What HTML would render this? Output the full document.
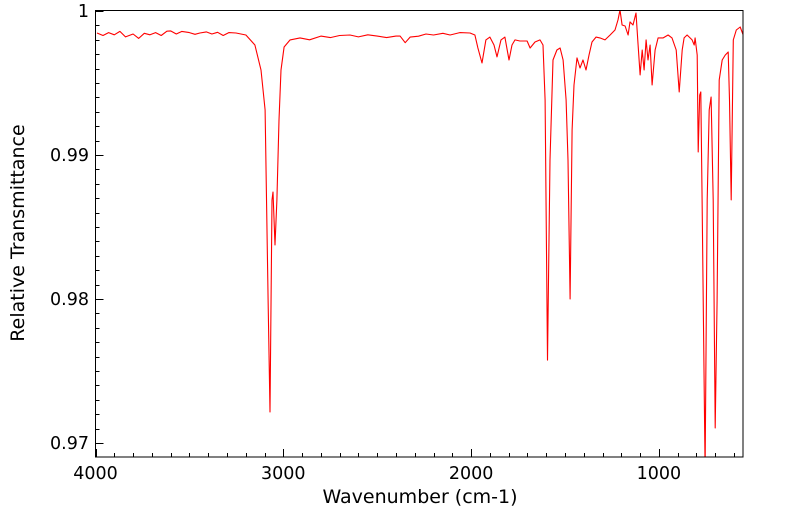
<!DOCTYPE html>
<html><head><meta charset="utf-8"><style>
html,body{margin:0;padding:0;background:#fff;width:799px;height:516px;overflow:hidden}
svg{display:block;font-family:"DejaVu Sans","Liberation Sans",sans-serif}
</style></head><body>
<svg id="chart" width="799" height="516">
<defs><clipPath id="clip"><rect x="95.5" y="10" width="647.5" height="447"/></clipPath></defs>
<g id="ticks"></g>
<g id="series" clip-path="url(#clip)"></g>
<rect x="95.5" y="10.5" width="647.5" height="446.5" fill="none" stroke="#000" stroke-width="1"/>
<g id="labels" font-size="17.5" fill="#000"></g>
<text x="420" y="503" text-anchor="middle" font-size="19">Wavenumber (cm-1)</text>
<text transform="translate(24,233) rotate(-90)" text-anchor="middle" font-size="19">Relative Transmittance</text>
</svg>
<script>
const wavenumbers=[3992,3960,3930,3900,3870,3840,3800,3770,3740,3710,3680,3650,3620,3600,3570,3540,3500,3470,3444,3410,3380,3350,3320,3290,3252,3199,3151,3119,3097,3081,3071,3060,3055,3044,3034,3023,3012,2996,2964,2911,2860,2800,2750,2700,2645,2600,2550,2500,2450,2400,2378,2351,2325,2280,2240,2200,2150,2112,2060,2006,1980,1964,1942,1921,1900,1878,1862,1841,1820,1798,1782,1766,1740,1702,1686,1660,1633,1617,1606,1593,1580,1564,1543,1526,1510,1494,1484,1473,1462,1452,1436,1420,1404,1388,1372,1356,1335,1314,1287,1260,1234,1218,1207,1196,1180,1164,1154,1138,1122,1111,1100,1089,1079,1068,1058,1047,1036,1020,1004,977,951,930,908,892,876,866,850,823,812,807,796,791,783,777,770,754,743,732,722,711,700,690,679,663,647,631,624,615,604,588,567,551];
const transmittance=[0.99847,0.99830,0.99850,0.99835,0.99858,0.99820,0.99840,0.99810,0.99845,0.99835,0.99850,0.99830,0.99860,0.99862,0.99840,0.99858,0.99850,0.99838,0.99847,0.99855,0.99840,0.99852,0.99830,0.99850,0.99847,0.99833,0.99764,0.99590,0.99313,0.97993,0.97215,0.98688,0.98743,0.98375,0.98688,0.99243,0.99590,0.99750,0.99799,0.99813,0.99800,0.99826,0.99815,0.99830,0.99833,0.99820,0.99835,0.99826,0.99815,0.99826,0.99826,0.99780,0.99819,0.99825,0.99840,0.99833,0.99845,0.99833,0.99850,0.99847,0.99833,0.99743,0.99639,0.99799,0.99819,0.99764,0.99681,0.99799,0.99819,0.99660,0.99764,0.99799,0.99792,0.99792,0.99743,0.99785,0.99799,0.99764,0.99382,0.97576,0.98965,0.99660,0.99729,0.99743,0.99660,0.99382,0.98965,0.98000,0.99174,0.99486,0.99674,0.99604,0.99660,0.99590,0.99694,0.99785,0.99819,0.99813,0.99799,0.99833,0.99868,0.99938,1.00007,0.99903,0.99896,0.99833,0.99924,0.99903,0.99986,0.99764,0.99556,0.99729,0.99590,0.99799,0.99660,0.99764,0.99486,0.99729,0.99813,0.99813,0.99833,0.99813,0.99729,0.99438,0.99729,0.99813,0.99833,0.99799,0.99764,0.99813,0.99694,0.99021,0.99417,0.99438,0.98688,0.96813,0.98688,0.99313,0.99403,0.98688,0.97104,0.97993,0.99521,0.99660,0.99694,0.99715,0.99382,0.98688,0.99799,0.99868,0.99889,0.99833];
const xTickLabels=[4000,3000,2000,1000];
const yTickLabels=[0.97,0.98,0.99,1];
const NS="http://www.w3.org/2000/svg";
const xPx=w=>95.5+(4000-w)*0.18780;
const yPx=t=>11+(1-t)*14400;
const series=document.getElementById('series');
const line=document.createElementNS(NS,'polyline');
line.setAttribute('points',wavenumbers.map((w,i)=>xPx(w).toFixed(1)+','+yPx(transmittance[i]).toFixed(1)).join(' '));
line.setAttribute('fill','none');line.setAttribute('stroke','#ff0000');line.setAttribute('stroke-width','1.1');line.setAttribute('stroke-linejoin','round');


series.appendChild(line);
const ticks=document.getElementById('ticks');
let d='';
for(let w=4000;w>=560;w-=100){const x=(Math.round(xPx(w))+0.5).toFixed(1);const len=(w%1000===0)?8:4;d+=`M${x},457V${457-len}`;}
for(let k=0;k<=31;k++){const t=0.969+k*0.001;const y=yPx(t);if(y<10||y>457)continue;const major=Math.round(t*1000)%10===0;const yy=Math.round(y)+0.5;d+=`M95.5,${yy}H${95.5+(major?8:4)}`;}
const tp=document.createElementNS(NS,'path');tp.setAttribute('d',d);tp.setAttribute('stroke','#000');tp.setAttribute('stroke-width','1');


ticks.appendChild(tp);
const labels=document.getElementById('labels');
xTickLabels.forEach(v=>{const t=document.createElementNS(NS,'text');t.setAttribute('x',xPx(v));t.setAttribute('y',479);t.setAttribute('text-anchor','middle');t.textContent=v;


labels.appendChild(t);});
yTickLabels.forEach(v=>{const t=document.createElementNS(NS,'text');t.setAttribute('x',89);t.setAttribute('y',yPx(v)+6);t.setAttribute('text-anchor','end');t.textContent=String(v);


labels.appendChild(t);});
</script>
</body></html>
